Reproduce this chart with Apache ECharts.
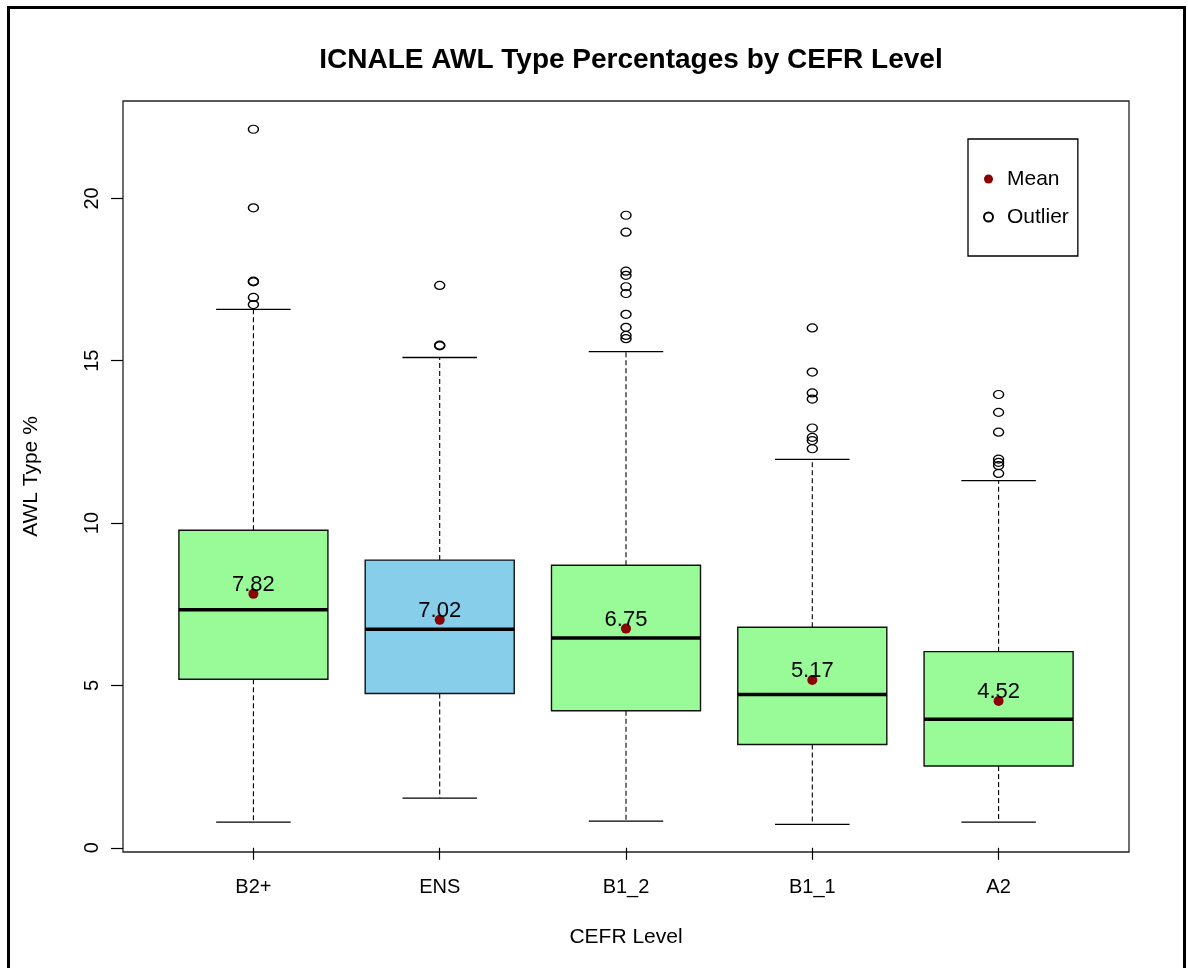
<!DOCTYPE html>
<html>
<head>
<meta charset="utf-8">
<script src="https://cdn.jsdelivr.net/npm/echarts@6/dist/echarts.min.js"></script>
<style>
  html, body { margin: 0; padding: 0; background: #fff; }
  #chart { width: 1188px; height: 968px; }
</style>
</head>
<body>
<div id="chart"></div>
<script>
// ---- data ----
var categories = ['B2+', 'ENS', 'B1_2', 'B1_1', 'A2'];
var whiskerLow  = [0.79, 1.53, 0.82, 0.72, 0.79];
var q1          = [5.19, 4.75, 4.22, 3.18, 2.52];
var medians     = [7.33, 6.73, 6.46, 4.72, 3.96];
var q3          = [9.78, 8.86, 8.70, 6.79, 6.04];
var whiskerHigh = [16.58, 15.10, 15.28, 11.96, 11.31];
var means       = [7.82, 7.02, 6.75, 5.17, 4.52];
var outliersB2p = [22.13, 19.71, 17.45, 17.43, 16.95, 16.73];
var outliersENS = [17.32, 15.48, 15.46];
var outliersB12 = [19.48, 18.96, 17.76, 17.63, 17.28, 17.07, 16.43, 16.03, 15.78, 15.68];
var outliersB11 = [16.01, 14.65, 14.01, 13.82, 12.93, 12.64, 12.54, 12.29];
var outliersA2  = [13.96, 13.41, 12.80, 11.97, 11.87, 11.77, 11.53];
var yTicks = [0, 5, 10, 15, 20];

// ---- styles ----
var boxFill = { 'ENS': '#87CEEB' };
var defaultFill = '#98FB98';
var FONT = '"Liberation Sans", Arial, Helvetica, sans-serif';

var outlierLists = [outliersB2p, outliersENS, outliersB12, outliersB11, outliersA2];
var boxData = categories.map(function (c, i) {
  return [i + 1, whiskerLow[i], q1[i], medians[i], q3[i], whiskerHigh[i]];
});
var meanData = means.map(function (m, i) { return [i + 1, m]; });
var outlierData = [];
outlierLists.forEach(function (arr, i) {
  arr.forEach(function (v) { outlierData.push([i + 1, v]); });
});

var BOX_HALF = 0.4, CAP_HALF = 0.2;

function renderBox(params, api) {
  var x = api.value(0);
  var lo = api.value(1), a = api.value(2), md = api.value(3), b = api.value(4), hi = api.value(5);
  var fill = boxFill[categories[params.dataIndex]] || defaultFill;
  var pLo = api.coord([x, lo]), pA = api.coord([x, a]), pMd = api.coord([x, md]);
  var pB = api.coord([x, b]), pHi = api.coord([x, hi]);
  var xl = api.coord([x - BOX_HALF, 0])[0], xr = api.coord([x + BOX_HALF, 0])[0];
  var cl = api.coord([x - CAP_HALF, 0])[0], cr = api.coord([x + CAP_HALF, 0])[0];
  var cx = pMd[0];
  var dash = { stroke: '#000', lineWidth: 1.1, lineDash: [5, 3] };
  var solid = { stroke: '#000', lineWidth: 1.3 };
  return {
    type: 'group',
    children: [
      { type: 'line', shape: { x1: cx, y1: pB[1], x2: cx, y2: pHi[1] }, style: dash },
      { type: 'line', shape: { x1: cx, y1: pA[1], x2: cx, y2: pLo[1] }, style: dash },
      { type: 'line', shape: { x1: cl, y1: pHi[1], x2: cr, y2: pHi[1] }, style: solid },
      { type: 'line', shape: { x1: cl, y1: pLo[1], x2: cr, y2: pLo[1] }, style: solid },
      { type: 'rect', shape: { x: xl, y: pB[1], width: xr - xl, height: pA[1] - pB[1] },
        style: { fill: fill, stroke: '#111', lineWidth: 1.4 } },
      { type: 'line', shape: { x1: xl, y1: pMd[1], x2: xr, y2: pMd[1] },
        style: { stroke: '#000', lineWidth: 3.5 } }
    ]
  };
}

var chart = echarts.init(document.getElementById('chart'), null, { renderer: 'canvas' });
chart.setOption({
  animation: false,
  backgroundColor: '#fff',
  textStyle: { fontFamily: FONT },
  title: {
    text: 'ICNALE AWL Type Percentages by CEFR Level',
    left: 626, top: 41, textAlign: 'center',
    textStyle: { fontSize: 28, fontWeight: 'bold', color: '#000', fontFamily: FONT }
  },
  graphic: [{
    type: 'rect', left: 6, top: 5, silent: true,
    shape: { width: 1176, height: 990 },
    style: { fill: 'none', stroke: '#000', lineWidth: 3 }
  }],
  grid: {
    left: 123, right: 59, top: 101, bottom: 116,
    show: true, borderColor: '#222', borderWidth: 1.3, backgroundColor: 'transparent'
  },
  legend: {
    data: ['Mean', 'Outlier'],
    orient: 'vertical', left: 968, top: 139,
    padding: [29, 9, 28, 15],
    itemWidth: 9, itemHeight: 9, itemGap: 16,
    borderColor: '#000', borderWidth: 1.3,
    textStyle: { fontSize: 21, color: '#000', fontFamily: FONT, lineHeight: 22, padding: [0, 0, 0, 9] }
  },
  xAxis: {
    type: 'value', min: 0.3, max: 5.7,
    name: 'CEFR Level', nameLocation: 'middle', nameGap: 75,
    nameTextStyle: { fontSize: 21, color: '#000', fontFamily: FONT },
    axisLine: { show: false },
    splitLine: { show: false },
    axisTick: { show: true, length: 12, customValues: [1, 2, 3, 4, 5], lineStyle: { color: '#000', width: 1.2 } },
    axisLabel: {
      customValues: [1, 2, 3, 4, 5], margin: 25, fontSize: 20, color: '#000', fontFamily: FONT,
      formatter: function (v) { return categories[Math.round(v) - 1] || ''; }
    }
  },
  yAxis: {
    type: 'value', min: -0.13, max: 23.0,
    name: 'AWL Type %', nameLocation: 'middle', nameGap: 81, nameRotate: 90,
    nameTextStyle: { fontSize: 21, color: '#000', fontFamily: FONT },
    axisLine: { show: false },
    splitLine: { show: false },
    axisTick: { show: true, length: 12, customValues: yTicks, lineStyle: { color: '#000', width: 1.2 } },
    axisLabel: {
      customValues: yTicks, rotate: 90, margin: 21, fontSize: 20, color: '#000', fontFamily: FONT
    }
  },
  series: [
    {
      name: 'Box', type: 'custom', renderItem: renderBox, data: boxData,
      encode: { x: 0, y: [1, 2, 3, 4, 5] }, z: 2
    },
    {
      name: 'Outlier', type: 'scatter', data: outlierData,
      symbol: 'circle', symbolSize: [10, 8],
      itemStyle: { color: 'rgba(0,0,0,0)', borderColor: '#000', borderWidth: 1.3, opacity: 1 },
      z: 3
    },
    {
      name: 'Mean', type: 'scatter', data: meanData,
      symbol: 'circle', symbolSize: 10,
      itemStyle: { color: '#8B0000', opacity: 1 },
      label: {
        show: true, position: 'top', distance: -7,
        formatter: function (p) { return p.value[1].toFixed(2); },
        fontSize: 22, color: '#000', fontFamily: FONT
      },
      z: 4
    }
  ]
});
</script>
</body>
</html>
